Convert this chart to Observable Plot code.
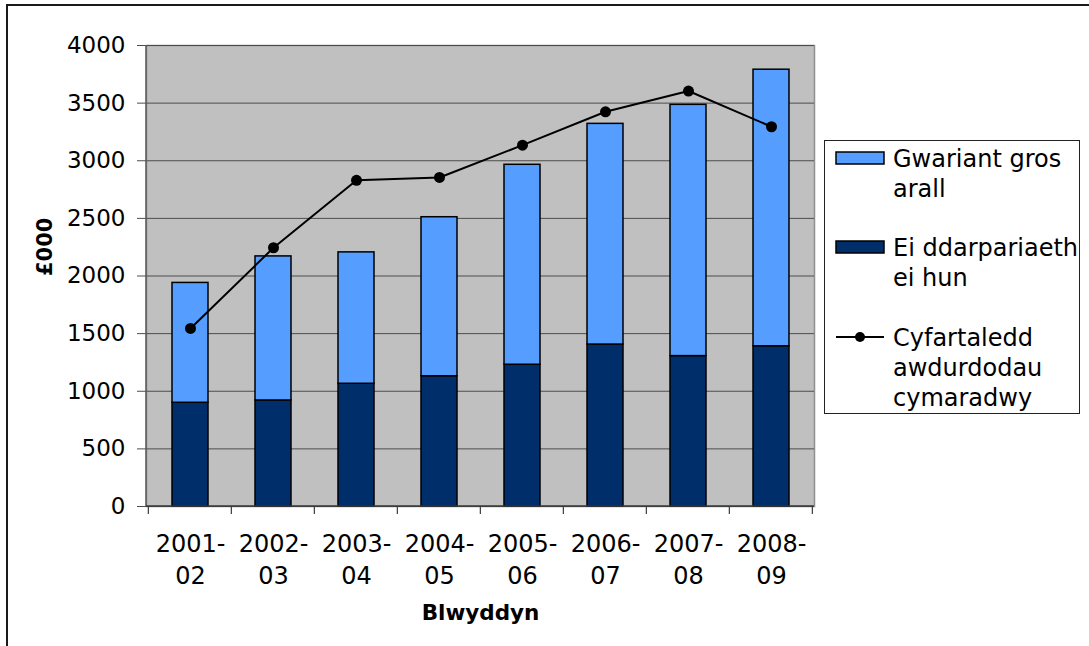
<!DOCTYPE html>
<html>
<head>
<meta charset="utf-8">
<script src="https://cdn.jsdelivr.net/npm/d3@7"></script>
<script src="https://cdn.jsdelivr.net/npm/@observablehq/plot@0.6"></script>
<style>
  body { margin: 0; background: #fff; font-family: "DejaVu Sans", sans-serif; }
  #wrap { position: relative; width: 1089px; height: 646px; overflow: hidden; background: #fff; }
  #frame { position: absolute; left: 6px; top: 4px; width: 3000px; height: 3000px;
           border-top: 2px solid #1a1a1a; border-left: 2px solid #1a1a1a; }
  #chart { position: absolute; left: 0; top: 0; }
  #legend { position: absolute; left: 824px; top: 140px; }
</style>
</head>
<body>
<div id="wrap">
  <div id="frame"></div>
  <div id="chart"></div>
  <div id="legend"></div>
</div>
<script>
// ---- data ----
const years = ["2001-02", "2002-03", "2003-04", "2004-05", "2005-06", "2006-07", "2007-08", "2008-09"];
const ownProvision = [900, 920, 1065, 1130, 1230, 1405, 1305, 1390];          // Ei ddarpariaeth ei hun
const otherGross   = [1040, 1250, 1140, 1380, 1735, 1915, 2180, 2400];        // Gwariant gros arall
const comparableAverage = [1545, 2245, 2830, 2855, 3135, 3425, 3605, 3295];   // Cyfartaledd awdurdodau cymaradwy
const yTicks = [0, 500, 1000, 1500, 2000, 2500, 3000, 3500, 4000];

const seriesOther = "Gwariant gros arall";
const seriesOwn = "Ei ddarpariaeth ei hun";
const seriesAvg = "Cyfartaledd awdurdodau cymaradwy";
const legendLabels = [["Gwariant gros", "arall"], ["Ei ddarpariaeth", "ei hun"], ["Cyfartaledd", "awdurdodau", "cymaradwy"]];
const colorOther = "#559DFF";
const colorOwn = "#002E6B";

const xLabel = "Blwyddyn";
const yLabel = "£000";

// ---- tables for Plot ----
const barRows = years.flatMap((yr, i) => [
  {year: yr, series: seriesOwn, value: ownProvision[i]},
  {year: yr, series: seriesOther, value: otherGross[i]}
]);
const avgRows = years.map((yr, i) => ({year: yr, value: comparableAverage[i]}));

const padInner = 0.57;

// category boundary ticks + axis lines, drawn from Plot's own x scale
function boundaryTicks(index, scales, values, dims) {
  const x = scales.x;
  const step = x(years[1]) - x(years[0]);
  const xs = years.map(yr => x(yr) - step * padInner / 2);
  xs.push(xs[xs.length - 1] + step);
  const y0 = dims.height - dims.marginBottom;
  const g = d3.create("svg:g");
  g.selectAll("line.t").data(xs).join("line")
    .attr("x1", d => d).attr("x2", d => d)
    .attr("y1", y0).attr("y2", y0 + 8)
    .attr("stroke", "#3a3a3a").attr("stroke-width", 1.2);
  g.append("line")
    .attr("x1", dims.marginLeft).attr("x2", dims.marginLeft)
    .attr("y1", dims.marginTop).attr("y2", y0)
    .attr("stroke", "#5a5a5a").attr("stroke-width", 1.5);
  g.append("line")
    .attr("x1", dims.marginLeft).attr("x2", dims.width - dims.marginRight)
    .attr("y1", y0).attr("y2", y0)
    .attr("stroke", "#3a3a3a").attr("stroke-width", 1.5);
  return g.node();
}

const chart = Plot.plot({
  width: 1089,
  height: 646,
  marginLeft: 146,
  marginRight: 275,
  marginTop: 45,
  marginBottom: 140,
  style: {fontFamily: "DejaVu Sans, sans-serif", fontSize: "24px", color: "#000", background: "transparent"},
  x: {domain: years, paddingInner: padInner, paddingOuter: padInner / 2, axis: null},
  y: {domain: [0, 4000], axis: null},
  color: {domain: [seriesOther, seriesOwn], range: [colorOther, colorOwn]},
  marks: [
    Plot.frame({fill: "#C0C0C0", stroke: "#8f8f8f", strokeWidth: 1.5}),
    Plot.gridY(yTicks, {stroke: "#4d4d4d", strokeOpacity: 1, strokeWidth: 1}),
    Plot.axisY({ticks: yTicks, tickSize: 9, tickPadding: 12, fontSize: 23, stroke: "#4d4d4d",
                tickFormat: d => String(d), label: null}),
    Plot.axisX({tickSize: 0, tickPadding: 22, fontSize: 24, lineHeight: 1.36,
                tickFormat: d => d.replace("-", "-\n"), label: null}),
    Plot.barY(barRows, {x: "year", y: "value", fill: "series", stroke: "#000", strokeWidth: 1.5}),
    boundaryTicks,
    Plot.line(avgRows, {x: "year", y: "value", stroke: "#000", strokeWidth: 2}),
    Plot.dot(avgRows, {x: "year", y: "value", r: 5.5, fill: "#000", stroke: "none"}),
    Plot.text([xLabel], {frameAnchor: "bottom", dy: 113, fontWeight: "bold", fontSize: 21.5, fill: "#000"}),
    Plot.text([yLabel], {frameAnchor: "left", dx: -101, rotate: -90, fontWeight: "bold", fontSize: 21, fill: "#000"})
  ]
});
document.getElementById("chart").appendChild(chart);

// ---- legend (box to the right of the plot) ----
const lw = 256, lh = 274;
const leg = d3.select("#legend").append("svg")
  .attr("width", lw).attr("height", lh)
  .style("font-family", "DejaVu Sans, sans-serif").style("font-size", "24px");
leg.append("rect").attr("x", 0.5).attr("y", 0.5).attr("width", lw - 1).attr("height", lh - 1)
  .attr("fill", "#fff").attr("stroke", "#222").attr("stroke-width", 1);
const lineGap = 30;
const entryTops = [18, 107, 197]; // centre of first line of each entry
const kinds = ["swatch", "swatch", "line"];
const fills = [colorOther, colorOwn, null];
legendLabels.forEach((lines, k) => {
  const cy = entryTops[k];
  if (kinds[k] === "swatch") {
    leg.append("rect").attr("x", 12).attr("y", cy - 6).attr("width", 48).attr("height", 12)
      .attr("fill", fills[k]).attr("stroke", "#000").attr("stroke-width", 1.5);
  } else {
    leg.append("line").attr("x1", 12).attr("x2", 60).attr("y1", cy).attr("y2", cy)
      .attr("stroke", "#000").attr("stroke-width", 2);
    leg.append("circle").attr("cx", 36).attr("cy", cy).attr("r", 5).attr("fill", "#000");
  }
  lines.forEach((t, j) => {
    leg.append("text").attr("x", 69).attr("y", cy + j * lineGap + 8.5).text(t);
  });
});
</script>
</body>
</html>
